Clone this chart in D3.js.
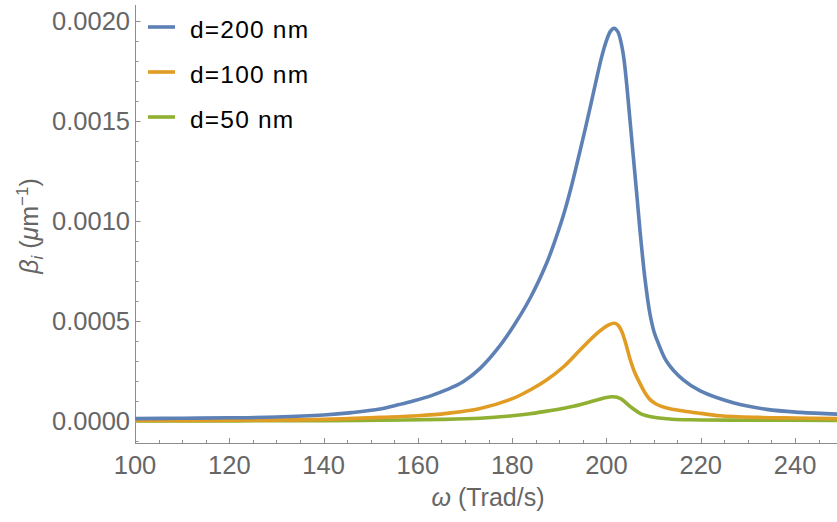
<!DOCTYPE html>
<html>
<head>
<meta charset="utf-8">
<script src="https://cdn.jsdelivr.net/npm/d3@7"></script>
<style>
  html, body { margin: 0; padding: 0; background: #fff; }
  svg { display: block; font-family: "Liberation Sans", Arial, sans-serif; }
</style>
</head>
<body>
<svg id="chart" width="837" height="522"></svg>
<script>
// Imaginary propagation constant β_i versus angular frequency for three film thicknesses
const seriesNames = ["d=200 nm", "d=100 nm", "d=50 nm"];
const seriesColors = ["#5E81B5", "#E19C24", "#8FB032"];

const omega200 = [100, 110, 120, 130, 140, 146, 152, 156, 159, 163, 166, 169.6, 173.2, 176.7, 180.2, 183.8, 187.3, 189, 190.9, 192.6, 194, 196, 198, 199, 200, 200.8, 201.6, 202.4, 203.1, 203.7, 204.3, 205.0, 205.7, 206.4, 207.1, 208.2, 209.2, 210.1, 211.0, 212.8, 216.3, 219.9, 226.9, 234.0, 241.1, 249];
const beta200  = [1.2e-5, 1.4e-5, 1.6e-5, 2.0e-5, 3.0e-5, 4.2e-5, 6.0e-5, 8.2e-5, 1.0e-4, 1.28e-4, 1.55e-4, 1.96e-4, 2.63e-4, 3.55e-4, 4.71e-4, 6.13e-4, 7.88e-4, 8.95e-4, 1.03e-3, 1.175e-3, 1.31e-3, 1.51e-3, 1.72e-3, 1.82e-3, 1.90e-3, 1.945e-3, 1.962e-3, 1.945e-3, 1.89e-3, 1.81e-3, 1.68e-3, 1.50e-3, 1.32e-3, 1.14e-3, 9.54e-4, 7.04e-4, 5.38e-4, 4.45e-4, 3.88e-4, 2.96e-4, 2.05e-4, 1.5e-4, 9.1e-5, 5.8e-5, 4.3e-5, 3.4e-5];

const omega100 = [100, 120, 140, 152, 160, 166.1, 173.2, 180.2, 183.8, 187.3, 190.9, 194.4, 198.0, 200.5, 201.6, 202.4, 203.2, 204.0, 205.0, 206.0, 207.1, 208.2, 209.2, 210.5, 212.8, 216.3, 220, 224.1, 232, 240, 249];
const beta100  = [2.5e-6, 4e-6, 8e-6, 1.8e-5, 2.6e-5, 3.8e-5, 6.3e-5, 1.13e-4, 1.55e-4, 2.05e-4, 2.71e-4, 3.55e-4, 4.38e-4, 4.8e-4, 4.88e-4, 4.8e-4, 4.5e-4, 3.95e-4, 3.1e-4, 2.42e-4, 1.88e-4, 1.4e-4, 1.08e-4, 8.5e-5, 6.5e-5, 5.0e-5, 3.8e-5, 2.6e-5, 1.8e-5, 1.5e-5, 1.2e-5];

const omega50 = [100, 140, 152, 165, 173.2, 180, 183.8, 187, 190.9, 193.0, 197.2, 199.5, 201.4, 203, 205.0, 207.1, 208.5, 210.7, 214, 217.7, 230, 249];
const beta50  = [0, 2e-6, 4e-6, 8e-6, 1.4e-5, 2.6e-5, 3.6e-5, 4.8e-5, 6.4e-5, 7.4e-5, 1.0e-4, 1.15e-4, 1.21e-4, 1.12e-4, 7.3e-5, 3.8e-5, 2.6e-5, 1.65e-5, 9e-6, 6e-6, 4e-6, 3e-6];

const xTicks = [100, 120, 140, 160, 180, 200, 220, 240];
const yTicks = [0, 0.0005, 0.001, 0.0015, 0.002];
const yTickLabels = ["0.0000", "0.0005", "0.0010", "0.0015", "0.0020"];

const series = [
  { name: seriesNames[0], color: seriesColors[0], omega: omega200, beta: beta200 },
  { name: seriesNames[1], color: seriesColors[1], omega: omega100, beta: beta100 },
  { name: seriesNames[2], color: seriesColors[2], omega: omega50,  beta: beta50 }
];

const svg = d3.select("#chart");
const axisColor = "#8c8c8c";
const labelColor = "#666666";

const x = d3.scaleLinear().domain([100, 248.9]).range([135, 837]);
const y = d3.scaleLinear().domain([0, 0.002]).range([421, 20.6]);
const yBottom = 443, yTop = 5;

// plot clip
svg.append("defs").append("clipPath").attr("id", "plotclip")
  .append("rect").attr("x", 135).attr("y", 0).attr("width", 702).attr("height", yBottom);

// y axis
const yAxis = svg.append("g");
yAxis.append("line").attr("x1", 135.5).attr("x2", 135.5).attr("y1", yTop).attr("y2", yBottom)
  .attr("stroke", axisColor).attr("stroke-width", 1);
const yMinor = d3.range(-0.0001, 0.00201, 0.0001).filter(v => yTicks.every(t => Math.abs(t - v) > 1e-9));
yAxis.selectAll(".ymin").data(yMinor).join("line")
  .attr("x1", 135.5).attr("x2", 138.5)
  .attr("y1", d => Math.round(y(d)) + 0.5).attr("y2", d => Math.round(y(d)) + 0.5)
  .attr("stroke", axisColor);
yAxis.selectAll(".ymaj").data(yTicks).join("line")
  .attr("x1", 135.5).attr("x2", 140.5)
  .attr("y1", d => Math.round(y(d)) + 0.5).attr("y2", d => Math.round(y(d)) + 0.5)
  .attr("stroke", axisColor);
yAxis.selectAll(".ylab").data(yTicks).join("text")
  .attr("x", 130).attr("y", d => y(d))
  .attr("dy", "0.35em").attr("text-anchor", "end")
  .attr("font-size", 25.5).attr("fill", labelColor)
  .text((d, i) => yTickLabels[i]);

// x axis
const xAxis = svg.append("g");
xAxis.append("line").attr("x1", 135).attr("x2", 837).attr("y1", yBottom + 0.5).attr("y2", yBottom + 0.5)
  .attr("stroke", axisColor);
const xMinor = d3.range(105, 249, 5).filter(v => v % 20 !== 0);
xAxis.selectAll(".xmin").data(xMinor).join("line")
  .attr("x1", d => Math.round(x(d)) + 0.5).attr("x2", d => Math.round(x(d)) + 0.5)
  .attr("y1", yBottom).attr("y2", yBottom - 3)
  .attr("stroke", axisColor);
xAxis.selectAll(".xmaj").data(xTicks).join("line")
  .attr("x1", d => Math.round(x(d)) + 0.5).attr("x2", d => Math.round(x(d)) + 0.5)
  .attr("y1", yBottom).attr("y2", yBottom - 5)
  .attr("stroke", axisColor);
xAxis.selectAll(".xlab").data(xTicks).join("text")
  .attr("x", d => x(d)).attr("y", 474)
  .attr("text-anchor", "middle")
  .attr("font-size", 25.5).attr("fill", labelColor)
  .text(d => d);

// axis titles
const xTitle = svg.append("text").attr("x", 488).attr("y", 506)
  .attr("text-anchor", "middle").attr("font-size", 25).attr("fill", labelColor);
xTitle.append("tspan").attr("font-style", "italic").text("ω");
xTitle.append("tspan").text(" (Trad/s)");

const yTitle = svg.append("text")
  .attr("transform", "translate(38,226) rotate(-90)")
  .attr("text-anchor", "middle").attr("font-size", 25).attr("fill", labelColor);
yTitle.append("tspan").attr("font-style", "italic").text("β");
yTitle.append("tspan").attr("font-style", "italic").attr("font-size", 17).attr("dy", 5).text("i");
yTitle.append("tspan").attr("dy", -5).text(" (");
yTitle.append("tspan").attr("font-style", "italic").text("μ");
yTitle.append("tspan").text("m");
yTitle.append("tspan").attr("font-size", 17).attr("dy", -10).text("−1");
yTitle.append("tspan").attr("dy", 10).text(")");

// curves
const line = d3.line()
  .x(d => x(d[0])).y(d => y(d[1]))
  .curve(d3.curveCatmullRom.alpha(0.5));

const plot = svg.append("g").attr("clip-path", "url(#plotclip)");
plot.selectAll(".curve").data(series.slice().reverse()).join("path")
  .attr("d", s => line(s.omega.map((w, i) => [w, s.beta[i]])))
  .attr("fill", "none")
  .attr("stroke", s => s.color)
  .attr("stroke-width", 3.6)
  .attr("stroke-linejoin", "round");

// legend
const legend = svg.append("g");
series.forEach((s, i) => {
  const ly = 27 + i * 45;
  legend.append("line").attr("x1", 148).attr("x2", 175).attr("y1", ly).attr("y2", ly)
    .attr("stroke", s.color).attr("stroke-width", 3.6);
  legend.append("text").attr("x", 190).attr("y", ly + 11)
    .attr("font-size", 24.5).attr("letter-spacing", 1.2).attr("fill", "#000")
    .text(s.name);
});
</script>
</body>
</html>
